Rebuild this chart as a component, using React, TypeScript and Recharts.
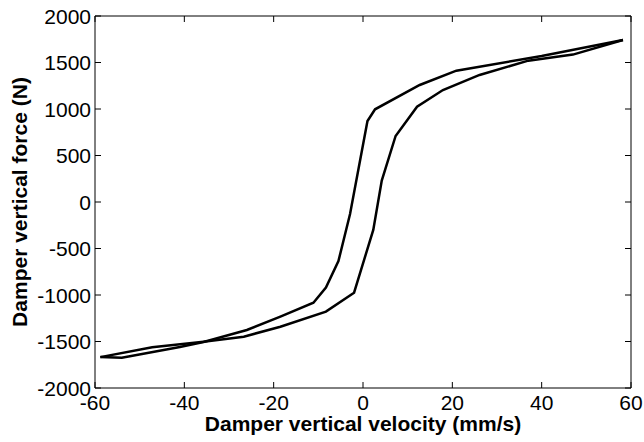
import React from 'react';
import { LineChart, Line, XAxis, YAxis, ReferenceArea, Label } from 'recharts';

const leftBranchVel = [-58.8, -54, -41, -35.7, -26, -18.5, -11.1, -8.3, -5.5, -2.9, 1.0, 2.7, 12.7, 20.9, 40, 58.2];
const leftBranchForce = [-1668, -1675, -1560, -1505, -1376, -1233, -1083, -920, -635, -130, 870, 997, 1258, 1412, 1570, 1742];

const rightBranchVel = [-58.8, -47.2, -35.7, -26.7, -18.5, -8.3, -2.0, 2.3, 4.2, 7.3, 12.1, 17.9, 26.1, 37, 47, 58.2];
const rightBranchForce = [-1668, -1563, -1502, -1448, -1341, -1179, -975, -300, 230, 710, 1025, 1204, 1366, 1520, 1585, 1742];

const velocityTicks = [-60, -40, -20, 0, 20, 40, 60];
const forceTicks = [-2000, -1500, -1000, -500, 0, 500, 1000, 1500, 2000];

const zip = (v: number[], f: number[]) => v.map((vel, i) => ({ vel, force: f[i] }));
const leftBranch = zip(leftBranchVel, leftBranchForce);
const rightBranch = zip(rightBranchVel, rightBranchForce);

const W = 644;
const H = 442;
const PLOT_TOP = 16;
const X_AXIS_H = 54;
const Y_AXIS_W = 95;
const RIGHT = 13;
const PLOT_BOTTOM = H - X_AXIS_H;
const PLOT_LEFT = Y_AXIS_W;
const PLOT_RIGHT = W - RIGHT;
const TICK = 6;
const FONT = '"Liberation Sans", Arial, Helvetica, sans-serif';

const XTick = (props: any) => {
    const { x, payload } = props;
    return (
        <g>
            <line x1={x} x2={x} y1={PLOT_BOTTOM} y2={PLOT_BOTTOM - TICK} stroke="#000" />
            <line x1={x} x2={x} y1={PLOT_TOP} y2={PLOT_TOP + TICK} stroke="#000" />
            <text x={x} y={PLOT_BOTTOM + 14} textAnchor="middle" dominantBaseline="central"
                fontFamily={FONT} fontSize={21} fill="#000">{payload.value}</text>
        </g>
    );
};

const YTick = (props: any) => {
    const { y, payload } = props;
    return (
        <g>
            <line x1={PLOT_LEFT} x2={PLOT_LEFT + TICK} y1={y} y2={y} stroke="#000" />
            <line x1={PLOT_RIGHT} x2={PLOT_RIGHT - TICK} y1={y} y2={y} stroke="#000" />
            <text x={PLOT_LEFT - 4} y={y} textAnchor="end" dominantBaseline="central"
                fontFamily={FONT} fontSize={21} fill="#000">{payload.value}</text>
        </g>
    );
};

const App: React.FC = () => {
    return (
        <div style={{ position: 'absolute', left: 0, top: 0, background: '#fff' }}>
            <LineChart width={W} height={H} margin={{ top: PLOT_TOP, right: RIGHT, bottom: 0, left: 0 }}>
                <XAxis dataKey="vel" type="number" domain={[-60, 60]} ticks={velocityTicks}
                    allowDataOverflow height={X_AXIS_H} axisLine={false} tickLine={false} tick={<XTick />} interval={0}>
                    <Label content={() => (
                        <text x={(PLOT_LEFT + PLOT_RIGHT) / 2} y={431} textAnchor="middle"
                            fontFamily={FONT} fontSize={21} fontWeight="bold" fill="#000">
                            Damper vertical velocity (mm/s)
                        </text>
                    )} />
                </XAxis>
                <YAxis dataKey="force" type="number" domain={[-2000, 2000]} ticks={forceTicks}
                    allowDataOverflow width={Y_AXIS_W} axisLine={false} tickLine={false} tick={<YTick />} interval={0}>
                    <Label content={() => (
                        <text x={19} y={(PLOT_TOP + PLOT_BOTTOM) / 2} textAnchor="middle" dominantBaseline="central"
                            transform={`rotate(-90, 19, ${(PLOT_TOP + PLOT_BOTTOM) / 2})`}
                            fontFamily={FONT} fontSize={21} fontWeight="bold" fill="#000">
                            Damper vertical force (N)
                        </text>
                    )} />
                </YAxis>
                <ReferenceArea x1={-60} x2={60} y1={-2000} y2={2000} fill="none" stroke="#000" strokeWidth={1} />
                <Line data={leftBranch} dataKey="force" type="linear" stroke="#000" strokeWidth={2.5}
                    dot={false} isAnimationActive={false} />
                <Line data={rightBranch} dataKey="force" type="linear" stroke="#000" strokeWidth={2.5}
                    dot={false} isAnimationActive={false} />
            </LineChart>
        </div>
    );
};

export default App;
